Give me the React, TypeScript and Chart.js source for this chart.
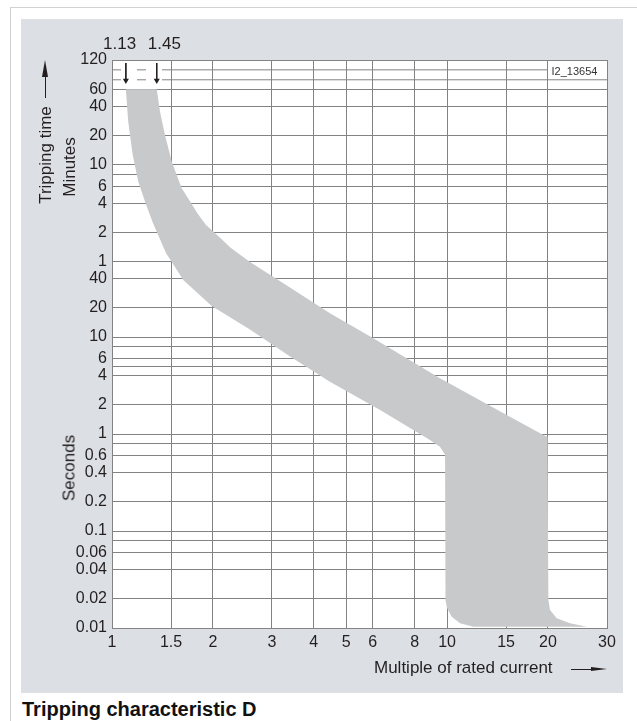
import React, { useEffect, useRef } from 'react';
import { Chart, registerables } from 'chart.js';

Chart.register(...registerables);

// ---------- data ----------
const xTickValues = [1, 1.5, 2, 3, 4, 5, 6, 8, 10, 15, 20, 30];
const xTickLabels = ['1', '1.5', '2', '3', '4', '5', '6', '8', '10', '15', '20', '30'];

// tripping time in seconds (top part labelled in minutes)
const yTickValues = [7200, 3600, 2400, 1200, 600, 480, 360, 240, 120, 60, 40, 20, 10, 8, 6, 5, 4, 2, 1, 0.8, 0.6, 0.4, 0.2, 0.1, 0.08, 0.06, 0.04, 0.02, 0.01];
const yTickLabels = ['120', '60', '40', '20', '10', '', '6', '4', '2', '1', '40', '20', '10', '', '6', '', '4', '2', '1', '', '0.6', '0.4', '0.2', '0.1', '', '0.06', '0.04', '0.02', '0.01'];

// top markers
const markerTickValues = [1.13, 1.45];
const markerTickLabels = ['1.13', '1.45'];
const markerCurrents = [1.1, 1.36];
const markerArrowTimes = [6700, 4430];

// partial grid rows near the top
const extraRowTimes = [5700, 4500];
const extraRowEnds = [20, 30];
const dashedRowEnd = 1.5;

// tripping band: lower (left) boundary from top to bottom
const lowerCurrent = [1.1, 1.118, 1.153, 1.198, 1.259, 1.325, 1.449, 1.632, 1.984, 2.58, 3.4, 4.47, 6.31, 8.89, 9.52, 9.86, 9.89, 9.99, 10.32, 10.93, 11.97];
const lowerTime = [3600, 1660, 755, 400, 241, 150, 73.6, 38.8, 20.9, 12.0, 6.3, 3.47, 1.77, 0.87, 0.74, 0.61, 0.0194, 0.0161, 0.0131, 0.0112, 0.0103];
// upper (right) boundary from bottom to top
const upperCurrent = [26.15, 23.27, 21.24, 20.28, 20.05, 19.94, 19.37, 15.06, 9.52, 6.02, 4.47, 3.64, 3.245, 2.58, 2.265, 2.043, 1.908, 1.8, 1.705, 1.614, 1.508, 1.439, 1.391, 1.36];
const upperTime = [0.0103, 0.0112, 0.0126, 0.0153, 0.0194, 0.93, 0.98, 1.57, 3.76, 9.7, 17.6, 27.8, 35.9, 59.5, 82.9, 115.6, 143.1, 188, 254, 342, 644, 1213, 2109, 3600];

// ---------- styles ----------
const GRID = '#838383';
const TEXT = '#231f20';
const BAND = '#c8c9cb';
const PANEL = '#dce0e4';
const FONT = "'Liberation Sans', Arial, Helvetica, sans-serif";
const EN_SPACE = '\u2002';

const whiteArea = {
  id: 'whiteArea',
  beforeDraw(chart: any) {
    const { ctx, chartArea } = chart;
    ctx.save();
    ctx.fillStyle = '#ffffff';
    ctx.fillRect(chartArea.left, chartArea.top, chartArea.right - chartArea.left, chartArea.bottom - chartArea.top);
    ctx.restore();
  },
};

function TrippingChart() {
  const ref = useRef<HTMLCanvasElement | null>(null);
  useEffect(() => {
    if (!ref.current) return;
    const band = [
      ...lowerCurrent.map((x, i) => ({ x, y: lowerTime[i] })),
      ...upperCurrent.map((x, i) => ({ x, y: upperTime[i] })),
    ];
    const arrowSets = markerCurrents.map((x) => ({
      data: [{ x, y: markerArrowTimes[0] }, { x, y: markerArrowTimes[1] }],
      borderColor: TEXT,
      borderWidth: 1,
      pointRadius: [0, 3.5],
      pointHoverRadius: 0,
      pointStyle: 'triangle',
      pointRotation: 180,
      pointBackgroundColor: TEXT,
      pointBorderColor: TEXT,
      pointBorderWidth: 0,
      fill: false,
      tension: 0,
      order: 0,
      xAxisID: 'x',
      yAxisID: 'y',
    }));
    const rowSets = extraRowTimes.map((t, i) => ({
      data: [{ x: 1, y: t }, { x: dashedRowEnd, y: t }, { x: extraRowEnds[i], y: t }],
      borderColor: GRID,
      borderWidth: 1,
      pointRadius: 0,
      fill: false,
      tension: 0,
      segment: { borderDash: (c: any) => (c.p0DataIndex === 0 ? [9, 16] : undefined) },
      order: 1,
      xAxisID: 'x',
      yAxisID: 'y',
    }));
    const chart = new Chart(ref.current, {
      type: 'line',
      data: {
        datasets: [
          ...arrowSets,
          ...rowSets,
          {
            data: band,
            backgroundColor: BAND,
            borderColor: 'rgba(0,0,0,0)',
            borderWidth: 0,
            pointRadius: 0,
            fill: 'shape',
            tension: 0,
            order: 10,
            xAxisID: 'x',
            yAxisID: 'y',
          },
        ] as any,
      },
      options: {
        animation: false,
        responsive: false,
        events: [],
        layout: { padding: { left: 0, right: 16, top: 0, bottom: 0 } },
        plugins: { legend: { display: false }, tooltip: { enabled: false }, title: { display: false } },
        scales: {
          x: {
            type: 'logarithmic',
            position: 'bottom',
            min: 1,
            max: 30,
            afterBuildTicks: (s: any) => { s.ticks = xTickValues.map((v) => ({ value: v })); },
            afterFit: (s: any) => { s.height = 65; },
            ticks: {
              autoSkip: false, maxRotation: 0, minRotation: 0, padding: 5, color: TEXT,
              font: { size: 16, family: FONT },
              callback: (_v: any, i: number) => xTickLabels[i] ?? '',
            },
            grid: { color: GRID, lineWidth: 1, drawTicks: false },
            border: { display: true, color: GRID, width: 1 },
          },
          xTop: {
            type: 'logarithmic',
            position: 'top',
            min: 1,
            max: 30,
            afterBuildTicks: (s: any) => { s.ticks = markerTickValues.map((v) => ({ value: v })); },
            afterFit: (s: any) => { s.height = 41; },
            ticks: {
              autoSkip: false, maxRotation: 0, minRotation: 0, padding: 5, labelOffset: -6, color: TEXT,
              font: { size: 17, family: FONT },
              callback: (_v: any, i: number) => {
                const t = markerTickLabels[i] ?? '';
                return i === 0 ? t + EN_SPACE : EN_SPACE + t;
              },
            },
            grid: { display: false, drawTicks: false },
            border: { display: false },
          },
          y: {
            type: 'logarithmic',
            position: 'left',
            min: 0.01,
            max: 7200,
            afterBuildTicks: (s: any) => { s.ticks = yTickValues.map((v) => ({ value: v })); },
            afterFit: (s: any) => { s.width = 91; },
            ticks: {
              autoSkip: false, padding: 5, color: TEXT,
              font: { size: 16, family: FONT },
              callback: (_v: any, i: number) => yTickLabels[i] ?? '',
            },
            grid: { color: GRID, lineWidth: 1, drawTicks: false },
            border: { display: true, color: GRID, width: 1 },
          },
        } as any,
      },
      plugins: [whiteArea],
    });
    return () => chart.destroy();
  }, []);
  return <canvas ref={ref} width={602} height={674} style={{ display: 'block', width: 602, height: 674 }} />;
}

const abs = (o: React.CSSProperties): React.CSSProperties => ({ position: 'absolute', ...o });
const rotated = (cx: number, cy: number, size: number): React.CSSProperties => abs({
  left: cx, top: cy, transform: 'translate(-50%, -50%) rotate(-90deg)', fontSize: size,
  lineHeight: `${size}px`, whiteSpace: 'nowrap', color: TEXT, fontFamily: FONT,
});

export default function App() {
  return (
    <div style={{ position: 'absolute', left: 0, top: 0, width: 637, height: 721, background: '#fff', overflow: 'hidden', fontFamily: FONT }}>
      <div style={abs({ left: 10, top: 7, width: 800, height: 900, borderTop: '1px solid #d2d2d2', borderLeft: '1px solid #d2d2d2' })} />
      <div style={abs({ left: 21, top: 19, width: 602, height: 674, background: PANEL })}>
        <TrippingChart />
      </div>
      {/* y axis titles */}
      <div style={rotated(45, 154.5, 17)}>Tripping time</div>
      <div style={abs({ left: 42, top: 60, width: 0, height: 0, borderLeft: '3px solid transparent', borderRight: '3px solid transparent', borderBottom: `17px solid ${TEXT}` })} />
      <div style={abs({ left: 44.5, top: 76, width: 1, height: 22, background: TEXT })} />
      <div style={rotated(69, 167, 17)}>Minutes</div>
      <div style={rotated(69, 467.5, 17)}>Seconds</div>
      {/* x axis title */}
      <div style={abs({ left: 374, top: 667, transform: 'translateY(-50%)', fontSize: 17, lineHeight: '17px', whiteSpace: 'nowrap', color: TEXT })}>Multiple of rated current</div>
      <div style={abs({ left: 571, top: 668.5, width: 22, height: 1, background: TEXT })} />
      <div style={abs({ left: 591, top: 666.5, width: 0, height: 0, borderTop: '2.5px solid transparent', borderBottom: '2.5px solid transparent', borderLeft: `16px solid ${TEXT}` })} />
      {/* figure id */}
      <div style={abs({ left: 551.5, top: 70.5, transform: 'translateY(-50%)', fontSize: 11, lineHeight: '11px', whiteSpace: 'nowrap', color: '#333' })}>I2_13654</div>
      {/* caption */}
      <div style={abs({ left: 22, top: 699.4, fontSize: 20, lineHeight: '20px', fontWeight: 'bold', whiteSpace: 'nowrap', color: '#111' })}>Tripping characteristic D</div>
    </div>
  );
}
